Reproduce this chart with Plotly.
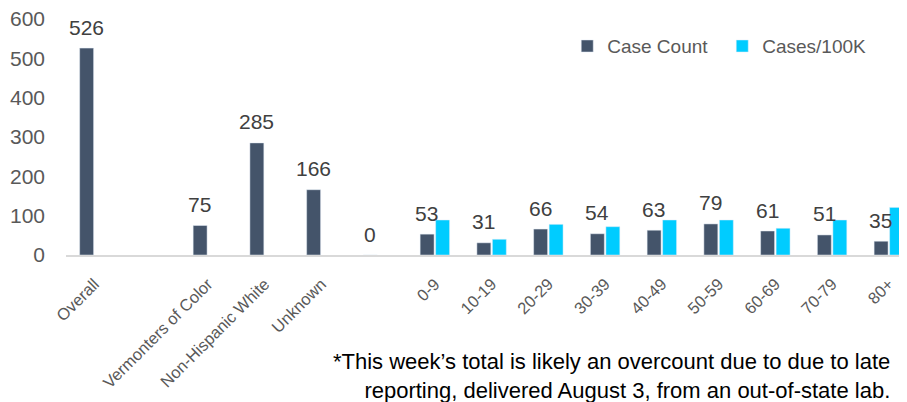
import plotly.graph_objects as go

categories = ["Overall", " ", "Vermonters of Color", "Non-Hispanic White", "Unknown", "  ",
              "0-9", "10-19", "20-29", "30-39", "40-49", "50-59", "60-69", "70-79", "80+"]
case_count = [526, None, 75, 285, 166, 0, 53, 31, 66, 54, 63, 79, 61, 51, 35]
cases_per_100k = [None, None, None, None, None, None, 89, 40, 78, 72, 89, 89, 68, 89, 121]
y_ticks = [0, 100, 200, 300, 400, 500, 600]
note = ("*This week\u2019s total is likely an overcount due to due to late<br>"
        "reporting, delivered August 3, from an out-of-state lab.")

FONT = "Liberation Sans"
DARK = "#44546A"
CYAN = "#00CCFF"

fig = go.Figure()
fig.add_trace(go.Bar(name="Case Count", x=categories, y=case_count, marker_color=DARK))
fig.add_trace(go.Bar(name="Cases/100K", x=categories, y=cases_per_100k, marker_color=CYAN))

annotations = []
for cat, v in zip(categories, case_count):
    if v is None:
        continue
    annotations.append(dict(x=cat, y=v, xref="x", yref="y", text=str(v), showarrow=False,
                            xshift=-8, yshift=21, yanchor="middle",
                            font=dict(family=FONT, size=21, color="#404040")))
annotations.append(dict(x=1, y=0, xref="paper", yref="paper", text=note, showarrow=False,
                        xanchor="right", yanchor="top", align="right", xshift=-15, yshift=-92,
                        font=dict(family=FONT, size=22, color="#000000")))

fig.update_layout(
    width=899, height=394,
    margin=dict(l=58, r=0, t=11, b=147),
    paper_bgcolor="white", plot_bgcolor="white",
    barmode="group", bargap=0.454, bargroupgap=0.1,
    font=dict(family=FONT, color="#595959"),
    showlegend=True,
    legend=dict(orientation="h", x=0.596, y=0.885, xanchor="left", yanchor="middle",
                entrywidth=110,
                font=dict(family=FONT, size=19, color="#595959"), bgcolor="rgba(0,0,0,0)"),
    annotations=annotations,
)
fig.update_xaxes(type="category", categoryorder="array", categoryarray=categories,
                 range=[-0.5, 14.32], showline=True, linecolor="#D9D9D9", linewidth=2,
                 tickangle=-45, tickfont=dict(family=FONT, size=16.5, color="#595959"),
                 showgrid=False, ticks="", ticklabelstandoff=11, automargin=False,
                 ticklabeloverflow="allow")
fig.update_yaxes(range=[0, 600], tickvals=y_ticks, showgrid=False, zeroline=False,
                 showline=False, ticks="", ticklabelstandoff=20, automargin=False,
                 ticklabeloverflow="allow",
                 tickfont=dict(family=FONT, size=21, color="#595959"))

fig.write_html("out.html")
